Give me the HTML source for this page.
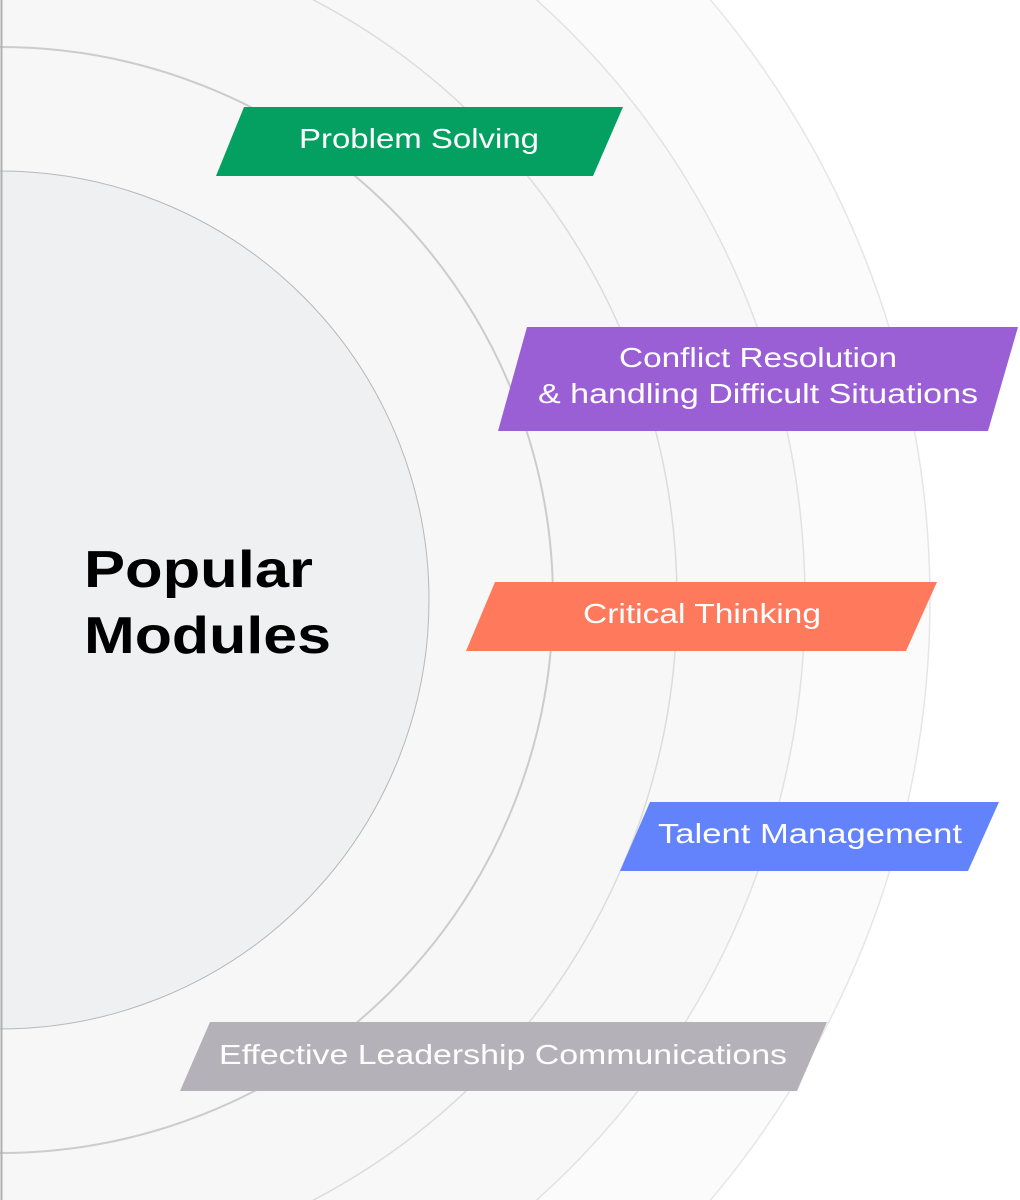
<!DOCTYPE html>
<html><head><meta charset="utf-8"><style>
html,body{margin:0;padding:0;background:#fff;width:1020px;height:1200px;overflow:hidden;}
svg{display:block;}
text{font-family:"Liberation Sans",sans-serif;}
</style></head><body>
<svg width="1020" height="1200" viewBox="0 0 1020 1200" xmlns="http://www.w3.org/2000/svg">
<rect width="1020" height="1200" fill="#ffffff"/>
<circle cx="0" cy="600" r="930" fill="#fbfbfb" stroke="#e6e6e6" stroke-width="1.5"/>
<circle cx="0" cy="600" r="805" fill="#f8f8f8" stroke="#e2e2e2" stroke-width="1.5"/>
<circle cx="0" cy="600" r="677" fill="#f7f7f7" stroke="#dcdcdc" stroke-width="1.5"/>
<circle cx="0" cy="600" r="553" fill="#f7f7f7" stroke="#cccccc" stroke-width="2"/>
<circle cx="0" cy="600" r="429" fill="#eff0f2" stroke="#b8b8b8" stroke-width="1"/>
<line x1="1.5" y1="0" x2="1.5" y2="1200" stroke="#b0b0b0" stroke-width="2"/>

<polygon points="244,107 623,107 593,176 216,176" fill="#03a062"/>
<text x="299" y="148" font-size="28" fill="#fff" textLength="240" lengthAdjust="spacingAndGlyphs">Problem Solving</text>

<polygon points="527,327 1018,327 988,431 498,431" fill="#9b5fd5"/>
<text x="619" y="367" font-size="28" fill="#fff" textLength="278" lengthAdjust="spacingAndGlyphs">Conflict Resolution</text>
<text x="538" y="403" font-size="28" fill="#fff" textLength="440" lengthAdjust="spacingAndGlyphs">&amp; handling Difficult Situations</text>

<polygon points="495,582 937,582 906,651 466,651" fill="#ff7a5c"/>
<text x="583" y="623" font-size="28" fill="#fff" textLength="238" lengthAdjust="spacingAndGlyphs">Critical Thinking</text>

<polygon points="650,802 999,802 968,871 620,871" fill="#6283fc"/>
<text x="658" y="843" font-size="28" fill="#fff" textLength="304" lengthAdjust="spacingAndGlyphs">Talent Management</text>

<polygon points="210,1022 827,1022 797,1091 180,1091" fill="#b5b1b8"/>
<text x="219" y="1064" font-size="28" fill="#fff" textLength="568" lengthAdjust="spacingAndGlyphs">Effective Leadership Communications</text>

<text x="84" y="587" font-size="52" font-weight="bold" fill="#000" textLength="229" lengthAdjust="spacingAndGlyphs">Popular</text>
<text x="84" y="653" font-size="52" font-weight="bold" fill="#000" textLength="247" lengthAdjust="spacingAndGlyphs">Modules</text>
</svg>
</body></html>
